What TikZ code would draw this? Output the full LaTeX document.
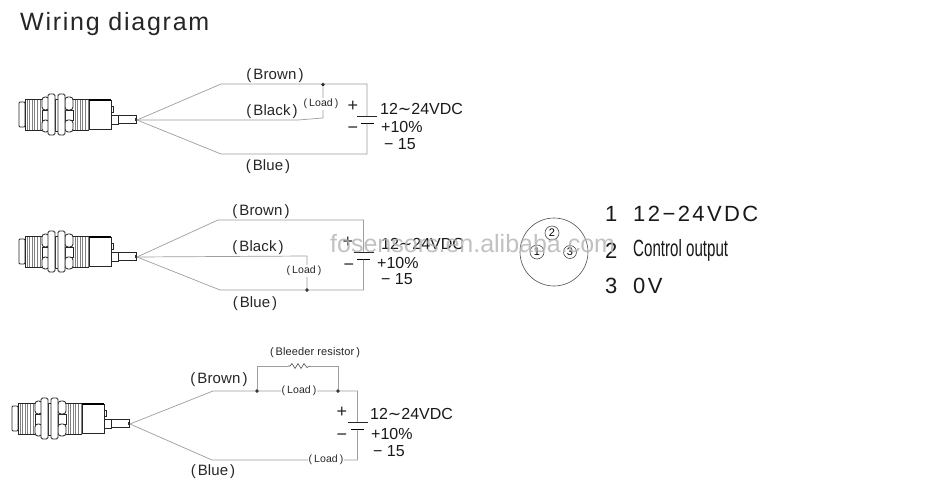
\documentclass[tikz,border=0pt]{standalone}
\usepackage{fontspec}
\setmainfont{Liberation Sans}
\newfontfamily\symf{DejaVu Sans}
\newfontfamily\wide[LetterSpace=7]{Liberation Sans}
\newfontfamily\midw[LetterSpace=1]{Liberation Sans}
\newfontfamily\widest[LetterSpace=11]{Liberation Sans}
\newcommand{\volt}{12{\symf ∼}24VDC}
\newcommand{\pr}[1]{(\kern2pt#1\kern2pt)}
\tikzset{
  x=1pt,y=-1pt,
  wire/.style={draw=black!38,line width=0.7pt},
  body/.style={draw=black!85,line width=0.85pt,fill=white},
  thin body/.style={draw=black!50,line width=0.8pt},
  lab/.style={font=\midw\fontsize{15}{16}\selectfont,inner sep=0pt,text=black!85},
  loadlab/.style={font=\midw\fontsize{10.5}{11}\selectfont,inner sep=1pt,fill=white,text=black!85},
  volt/.style={font=\fontsize{16}{17}\selectfont,inner sep=0pt,anchor=west,text=black!90},
  sign/.style={font=\fontsize{18}{19}\selectfont,inner sep=0pt,text=black!85},
  pinout/.style={font=\widest\fontsize{22}{23}\selectfont,inner sep=0pt,anchor=west,text=black!90},
  pinlab/.style={circle,draw=black!70,line width=0.6pt,inner sep=0pt,font=\fontsize{11}{11}\selectfont},
  junction/.style={circle,fill=black,inner sep=0pt,minimum size=3.6pt},
  plate/.style={draw=black!85,line width=0.7pt},
  shortplate/.style={draw=black,line width=1.8pt},
  sensor/.pic={
    \draw[body,rounded corners=1pt] (-118,-18) rectangle (-112,7);
    \foreach \i in {-110,-107.4,...,-96} \draw[thin body] (\i,-21) -- (\i,10);
    \foreach \i in {-62,-59.4,...,-48} \draw[thin body] (\i,-21) -- (\i,10);
    \draw[draw=black!85,line width=0.85pt] (-112,-21) -- (-95,-21) (-112,10) -- (-95,10) (-112,-21) -- (-112,10);
    \draw[draw=black!85,line width=0.85pt] (-64,-21) -- (-48,-21) (-64,10) -- (-48,10);
    % lobes of the nuts
    \foreach \a/\b in {-95/-88,-72/-64}{
      \draw[body,rounded corners=3pt] (\a,-23) rectangle (\b,-10);
      \draw[body,line width=0.7pt] (\a,-10) rectangle (\b,0);
      \draw[body,rounded corners=3pt] (\a,0) rectangle (\b,12);
    }
    \draw[body,line width=0.7pt] (-82,-21) rectangle (-79,11);
    \draw[body,rounded corners=1.5pt] (-89,-26) rectangle (-82,15);
    \draw[body,rounded corners=1.5pt] (-79,-26) rectangle (-72,15);
    % housing
    \draw[body] (-48,-20) rectangle (-26,9);
    \draw[draw=black,line width=1.1pt] (-48,-20) -- (-26,-20);
    \draw[body,line width=0.7pt] (-26,-14) rectangle (-24,-8);
    \draw[body,line width=0.7pt] (-26,-5) rectangle (-19,4);
    \draw[body] (-19,-4.5) rectangle (-1,3.5);
    \fill[black!80] (-2.5,-2.5) rectangle (-1,1);
  },
  battery/.pic={
    \coordinate (-top) at (0,0);
    \coordinate (-bot) at (0,7.5);
    \draw[plate] (-10,0) -- (10,0);
    \draw[shortplate] (-6.5,7.5) -- (6.5,7.5);
  }
}
\begin{document}
\begin{tikzpicture}
\useasboundingbox (0,0) rectangle (946,482);
\fill[white] (0,0) rectangle (946,482);

\node[anchor=west,inner sep=0pt,font=\wide\fontsize{25}{27}\selectfont,text=black!85] (title) at (20,24) {Wiring diagram};

% ---- circuit 1
\pic at (137,120) {sensor};
\coordinate (aO) at (137,120);
\coordinate (aB1) at (221,84);
\coordinate (aR) at (367,84);
\coordinate (aK1) at (298,120);
\coordinate (aK2) at (323,118);
\coordinate (aL1) at (221,154);
\coordinate (aL2) at (367,154);
\pic (abat) at (367,116) {battery};
\node[junction] (aJ) at (323,84.5) {};
\draw[wire] (aO) -- (aB1) -- (aR) -- (abat-top);
\draw[wire] (aO) -- (aL1) -- (aL2) -- (abat-bot);
\draw[wire] (aO) -- (aK1) -- (aK2) -- (aJ);
\node[loadlab] (aload) at (321,104) {\pr{Load}};
\node[lab] (abr) at (275,76) {\pr{Brown}};
\node[lab] (abk) at (272,112) {\pr{Black}};
\node[lab] (abl) at (268,167) {\pr{Blue}};
\node[sign] (apl) at (353,106) {+};
\node[sign] (amn) at (353,130) {−};
\node[volt] (av) at (380,109) {\volt};
\node[volt] (ap) at (381,127) {+10\%};
\node[volt] (am) at (384,144) {− 15};

% ---- circuit 2
\pic at (137,257) {sensor};
\coordinate (bO) at (137,257);
\coordinate (bB1) at (218,220);
\coordinate (bR) at (363.5,220);
\coordinate (bK1) at (307,256);
\coordinate (bL1) at (220,290);
\coordinate (bL2) at (363.5,290);
\pic (bbat) at (363.5,252) {battery};
\node[junction] (bJ) at (307,290) {};
\draw[wire] (bO) -- (bB1) -- (bR) -- (bbat-top);
\draw[wire] (bO) -- (bL1) -- (bL2) -- (bbat-bot);
\draw[wire] (bO) -- (bK1) -- (bJ);
\node[loadlab] (bload) at (304,271) {\pr{Load}};
\node[lab] (bbr) at (261,212) {\pr{Brown}};
\node[lab] (bbk) at (258,248) {\pr{Black}};
\node[lab] (bbl) at (255,304) {\pr{Blue}};
\node[sign] (bpl) at (348,242) {+};
\node[sign] (bmn) at (349,267) {−};
\node[volt] (bv) at (381,244) {\volt};
\node[volt] (bp) at (377,263) {+10\%};
\node[volt] (bm) at (381,279) {− 15};

% ---- circuit 3
\pic at (130,424) {sensor};
\coordinate (cO) at (130,424);
\coordinate (cB1) at (213,391);
\coordinate (cR) at (357.5,391);
\coordinate (cL1) at (212,460);
\coordinate (cL2) at (357.5,460);
\coordinate (cU1) at (257,366);
\coordinate (cU2) at (338,366);
\coordinate (cZ1) at (288,366);
\coordinate (cZ2) at (310,366);
\pic (cbat) at (357.5,422) {battery};
\node[junction] (cJ1) at (257,391) {};
\node[junction] (cJ2) at (338,391) {};
\draw[wire] (cO) -- (cB1) -- (cR) -- (cbat-top);
\draw[wire] (cO) -- (cL1) -- (cL2) -- (cbat-bot);
\draw[wire] (cJ1) -- (cU1) -- (cZ1);
\draw[wire] (cZ2) -- (cU2) -- (cJ2);
\draw[draw=black!70,line width=0.6pt] (cZ1) -- ++(2,0) -- ++(2,-2.5) -- ++(3,5) -- ++(3,-5) -- ++(3,5) -- ++(3,-5) -- ++(3,4) -- (cZ2);
\node[loadlab] (cload1) at (299,391) {\pr{Load}};
\node[loadlab] (cload2) at (326,460) {\pr{Load}};
\node[inner sep=0pt,font=\midw\fontsize{11}{12}\selectfont,text=black!85] (cbleed) at (315,353) {\pr{Bleeder resistor}};
\node[lab] (cbr) at (219,380) {\pr{Brown}};
\node[lab] (cbl) at (213,472) {\pr{Blue}};
\node[sign] (cpl) at (342,412) {+};
\node[sign] (cmn) at (342,437) {−};
\node[volt] (cv) at (370,414) {\volt};
\node[volt] (cp) at (371,434) {+10\%};
\node[volt] (cm) at (373,451) {− 15};

% ---- connector
\node[circle,draw=black!70,line width=0.6pt,minimum size=68pt,inner sep=0pt] (conn) at (554,252) {};
\node[pinlab,minimum size=14pt] (p1) at (537,252) {1};
\node[pinlab,minimum size=14pt] (p2) at (552,233) {2};
\node[pinlab,minimum size=13pt] (p3) at (570,252) {3};

\node[pinout] (n1) at (605,214) {1};
\node[pinout] (t1) at (633,214) {12−24VDC};
\node[pinout] (n2) at (605,251) {2};
\node[inner sep=0pt,anchor=west,text=black!90] (t2) at (633,250) {\resizebox{95pt}{17pt}{Control output}};
\node[pinout] (n3) at (605,286) {3};
\node[pinout] (t3) at (633,286) {0V};

% ---- watermark
\node[inner sep=0pt,anchor=west,font=\fontsize{25}{26}\selectfont,text=black!30,opacity=0.8] (wm) at (330,244) {fosensors.en.alibaba.com};
\end{tikzpicture}
\end{document}
